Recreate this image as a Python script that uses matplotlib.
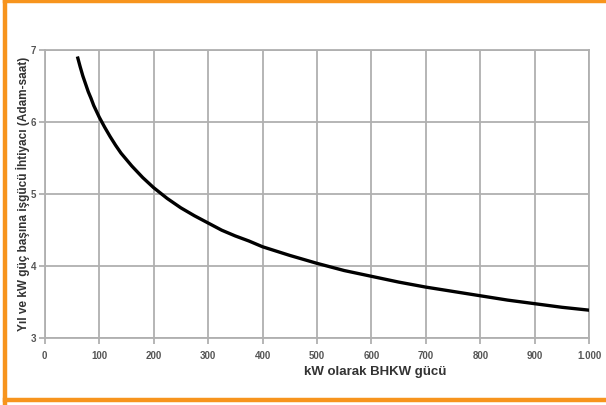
import matplotlib
matplotlib.use("Agg")
from matplotlib import pyplot as plt
from matplotlib.lines import Line2D

# values
power_kw = [60, 65, 70, 75, 80, 85, 90, 95, 100, 110, 120, 130, 140, 150,
            160, 170, 180, 190, 200, 225, 250, 275, 300, 325, 350, 375, 400,
            450, 500, 550, 600, 650, 700, 750, 800, 850, 900, 950, 1000]
hours = [6.91, 6.77, 6.64, 6.53, 6.42, 6.33, 6.23, 6.15, 6.07, 5.93, 5.80,
         5.68, 5.57, 5.48, 5.39, 5.31, 5.23, 5.16, 5.09, 4.94, 4.81, 4.70,
         4.60, 4.50, 4.42, 4.35, 4.27, 4.15, 4.04, 3.94, 3.86, 3.78, 3.71,
         3.65, 3.59, 3.53, 3.48, 3.43, 3.39]

x_ticks = [0, 100, 200, 300, 400, 500, 600, 700, 800, 900, 1000]
x_labels = ["0", "100", "200", "300", "400", "500", "600", "700", "800", "900", "1.000"]
y_ticks = [3, 4, 5, 6, 7]

plt.rcParams['font.family'] = ['Liberation Sans', 'DejaVu Sans']

fig = plt.figure(figsize=(6.06, 4.05), dpi=100)
ax = fig.add_axes([0.0738, 0.1647, 0.8986, 0.7118])

grid_col = "#b0b0b0"
ax.plot(power_kw, hours, color="black", lw=2.4, solid_capstyle="butt",
        solid_joinstyle="round", zorder=3)

ax.set_xlim(0, 1000)
ax.set_ylim(3, 7)
ax.set_xticks(x_ticks)
ax.set_xticklabels(x_labels)
ax.set_yticks(y_ticks)
ax.grid(True, color=grid_col, lw=1.3)
for s in ax.spines.values():
    s.set_color(grid_col)
    s.set_linewidth(1.3)
ax.tick_params(axis="both", colors=grid_col, length=4, width=1.3, pad=2,
               labelsize=7, labelcolor="#555555")
ax.tick_params(axis="x", pad=5)
for lab in ax.get_xticklabels() + ax.get_yticklabels():
    lab.set_fontweight("bold")

ax.set_xlabel("kW olarak BHKW gücü", fontsize=9.5, fontweight="bold",
              color="#333333")
ax.xaxis.set_label_coords(0.6065, -0.097)
ax.set_ylabel("Yıl ve kW güç başına işgücü İhtiyacı (Adam-saat)", fontsize=8.5,
              fontweight="bold", color="#333333")
ax.yaxis.set_label_coords(-0.027, 0.5)

# orange frame (left, top, bottom)
orange = "#F7941D"
fig.add_artist(Line2D([0.0082, 0.0082], [0.005, 0.995], color=orange, lw=3.2,
                      transform=fig.transFigure))
fig.add_artist(Line2D([0.0082, 1.0], [0.997, 0.997], color=orange, lw=3.2,
                      transform=fig.transFigure))
fig.add_artist(Line2D([0.0082, 1.0], [0.0125, 0.0125], color=orange, lw=3.2,
                      transform=fig.transFigure))

fig.savefig("out.png", dpi=100)
